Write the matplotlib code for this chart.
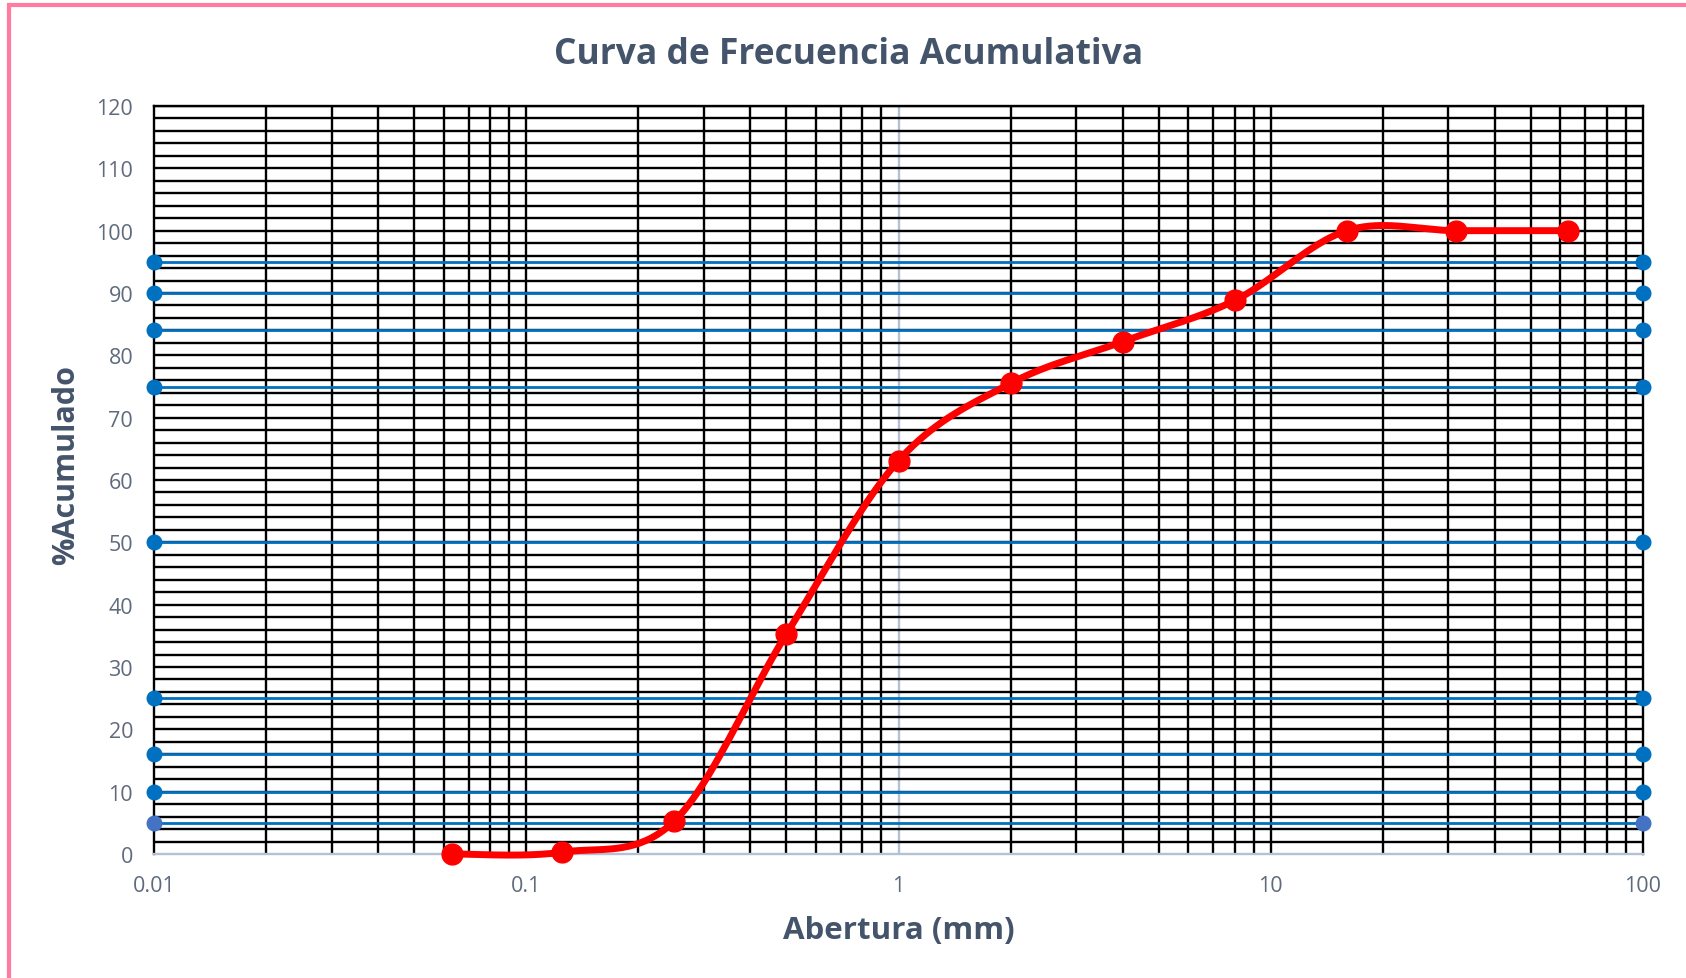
import numpy as np
import matplotlib
matplotlib.use('Agg')
import matplotlib.pyplot as plt
from matplotlib.patches import Rectangle

plt.rcParams['font.family'] = ['Open Sans', 'DejaVu Sans']

abertura = [0.063, 0.125, 0.25, 0.5, 1, 2, 4, 8, 16, 31.5, 63]
acumulado = [0.0, 0.3, 5.3, 35.3, 63.1, 75.5, 82.2, 88.8, 100.0, 100.0, 100.0]
niveles = [5, 10, 16, 25, 50, 75, 84, 90, 95]
x_lim = [0.01, 100]
y_ticks = list(range(0, 121, 10))
x_ticks = [0.01, 0.1, 1, 10, 100]
x_ticklabels = ['0.01', '0.1', '1', '10', '100']

W, H = 1686, 979
fig = plt.figure(figsize=(W/100, H/100), dpi=100)
ax = fig.add_axes([154/W, 1-855/H, (1643-154)/W, (855-107)/H])

# grid, drawn by hand so the major line at 1 can be grey
ax.set_xscale('log')
ax.set_xlim(x_lim)
ax.set_ylim(0, 120)
for d in [0.01, 0.1, 1, 10]:
    for k in range(1, 10):
        xv = d*k
        if xv <= x_lim[0]:
            continue
        c = '#B4C0D4' if xv == 1 else 'black'
        ax.axvline(xv, color=c, lw=1.7, zorder=1)
for yv in range(2, 121, 2):
    ax.axhline(yv, color='black', lw=1.7, zorder=1)

for s in ['left', 'right', 'top']:
    ax.spines[s].set_color('black')
    ax.spines[s].set_linewidth(1.7)
ax.spines['bottom'].set_color('#B4C0D4')
ax.spines['bottom'].set_linewidth(1.7)

# reference levels
for n in niveles:
    mc = '#4472C4' if n == 5 else '#0070C0'
    ax.plot(x_lim, [n, n], color='#0070C0', lw=2, marker='o', ms=10.5,
            mfc=mc, mec=mc, zorder=3, clip_on=False)

# smoothed curve (Excel-like bezier) in screen-ish units
u = np.log10(abertura)*372.25
v = np.array(acumulado)*6.24
P = np.column_stack([u, v])
Pe = np.vstack([P[0], P, P[-1]])
t = np.linspace(0, 1, 40)[:, None]
curve = []
for i in range(len(P)-1):
    p0, p1 = Pe[i+1], Pe[i+2]
    c1 = p0 + (Pe[i+2]-Pe[i])/6
    c2 = p1 - (Pe[i+3]-Pe[i+1])/6
    b = (1-t)**3*p0 + 3*(1-t)**2*t*c1 + 3*(1-t)*t**2*c2 + t**3*p1
    curve.append(b)
curve = np.vstack(curve)
ax.plot(10**(curve[:, 0]/372.25), curve[:, 1]/6.24, color='#FF0000', lw=5,
        solid_capstyle='round', zorder=4, clip_on=False)
ax.plot(abertura, acumulado, 'o', color='#FF0000', ms=15, zorder=5, clip_on=False)

ax.set_xticks(x_ticks)
ax.set_xticklabels(x_ticklabels)
ax.set_yticks(y_ticks)
ax.minorticks_off()
ax.tick_params(length=0, labelsize=15.5, colors='#5F6B7D')
ax.tick_params(axis='x', pad=15)
ax.tick_params(axis='y', pad=15)

ax.set_xlabel('Abertura (mm)', fontsize=22.5, fontweight='bold', color='#44546A', labelpad=14)
ax.set_ylabel('%Acumulado', fontsize=22, fontweight='bold', color='#44546A', labelpad=11)
ax.yaxis.label.set_y(0.521)
fig.text(849/W, 1-55/H, 'Curva de Frecuencia Acumulativa', ha='center', va='center',
         fontsize=25.5, fontweight='bold', color='#44546A')

fig.patches.append(Rectangle((9/W, -0.1), 1.2, 1.1-6/H, transform=fig.transFigure,
                             fill=False, ec='#FF7BA0', lw=3))

fig.savefig('out.png', dpi=100)
